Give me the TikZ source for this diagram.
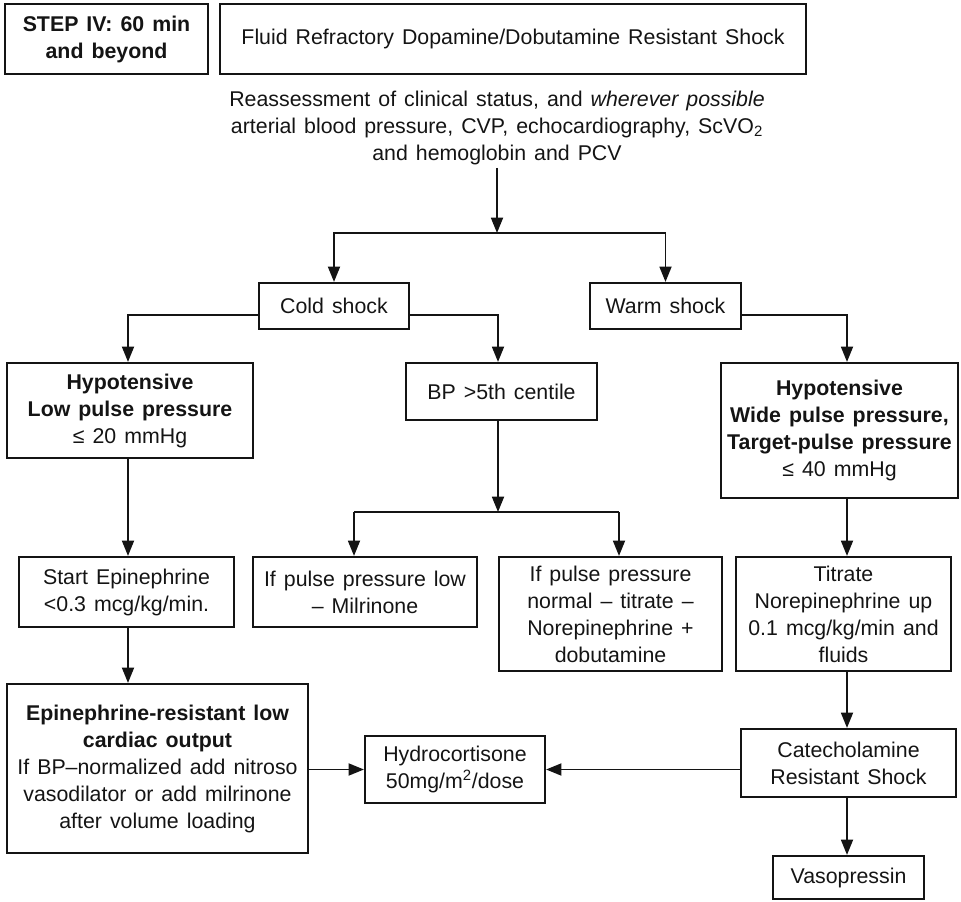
\documentclass[tikz,border=0pt]{standalone}
\usepackage{fontspec}
\setmainfont{Liberation Sans}[WordSpace=1.35]
\usetikzlibrary{arrows.meta}

\begin{document}
\begin{tikzpicture}[x=0.75pt,y=-0.75pt,
  every node/.style={font=\fontsize{16}{20.25}\selectfont, text=black!92},
  box/.style={draw=black!92, line width=1.6pt, align=center, inner sep=0pt},
  sz/.style 2 args={minimum width=#1*0.75pt, minimum height=#2*0.75pt},
  link/.style={draw=black!92, line width=1.35pt, -{Triangle[length=11.5pt,width=9pt]}},
  plain/.style={draw=black!92, line width=1.35pt}
]
\useasboundingbox (0,0) rectangle (961,902);

% column guides for the vertical connectors
\coordinate (colL) at (128,0);
\coordinate (colM) at (498,0);
\coordinate (colR) at (847,0);
\coordinate (top)  at (497,233);
\coordinate (bar)  at (498,512);
\coordinate (barL) at (354,512);
\coordinate (barR) at (619,512);

% header
\node[box, sz={203}{70}, font=\fontsize{16}{20.25}\selectfont\bfseries] (step) at (106.5,39) {STEP IV: 60 min\\and beyond};
\node[box, sz={586}{70}] (title) at (513,39) {Fluid Refractory Dopamine/Dobutamine Resistant Shock};

\node[align=center, inner sep=2pt] (reass) at (497,128)
  {Reassessment of clinical status, and \textit{wherever possible}\\
   arterial blood pressure, CVP, echocardiography, ScVO\textsubscript{2}\\
   and hemoglobin and PCV};

% shock types
\node[box, sz={150}{46}] (cold) at (334,306) {Cold shock};
\node[box, sz={151}{46}] (warm) at (665.5,306) {Warm shock};

% second level
\node[box, sz={246}{95}] (hypL) at (130,410.5)
  {\textbf{Hypotensive}\\\textbf{Low pulse pressure}\\≤ 20 mmHg};
\node[box, sz={191}{57}] (bp) at (501.5,391.5) {BP >5th centile};
\node[box, sz={237}{135}] (hypR) at (839.5,430.5)
  {\textbf{Hypotensive}\\\textbf{Wide pulse pressure,}\\\textbf{Target-pulse pressure}\\≤ 40 mmHg};

% third level
\node[box, sz={215}{70}] (epi) at (126.5,592) {Start Epinephrine\\<0.3 mcg/kg/min.};
\node[box, sz={224}{70}] (pplow) at (365,592) {If pulse pressure low\\– Milrinone};
\node[box, sz={223}{114}] (ppnorm) at (610.5,614)
  {If pulse pressure\\normal – titrate –\\Norepinephrine +\\dobutamine};
\node[box, sz={215}{114}] (titr) at (843.5,614)
  {Titrate\\Norepinephrine up\\0.1 mcg/kg/min and\\fluids};

% bottom level
\node[box, sz={301}{169}] (epires) at (157.5,768.5)
  {\textbf{Epinephrine-resistant low}\\\textbf{cardiac output}\\If BP–normalized add nitroso\\vasodilator or add milrinone\\after volume loading};
\node[box, sz={180}{67}] (hydro) at (455,769.5) {Hydrocortisone\\50mg/m\textsuperscript{2}/dose};
\node[box, sz={215}{68}] (cat) at (848.5,763) {Catecholamine\\Resistant Shock};
\node[box, sz={151}{43}] (vaso) at (848.5,877.5) {Vasopressin};

% connectors
\draw[link] (reass.south -| top) -- (top);
\draw[link] (top) -| (cold);
\draw[link] (top) -| (warm);

\draw[link] ([yshift=-6.75pt]cold.west) -| (hypL.north -| colL);
\draw[link] ([yshift=-6.75pt]cold.east) -| (bp.north -| colM);
\draw[link] ([yshift=-6.75pt]warm.east) -| (hypR.north -| colR);

\draw[link] (hypL.south -| colL) -- (epi.north -| colL);
\draw[link] (epi.south -| colL) -- (epires.north -| colL);

\draw[link] (bp.south -| colM) -- (bar);
\draw[plain] (barL) -- (barR);
\draw[link] (barL) -- (pplow.north -| barL);
\draw[link] (barR) -- (ppnorm.north -| barR);

\draw[link] (hypR.south -| colR) -- (titr.north -| colR);
\draw[link] (titr.south -| colR) -- (cat.north -| colR);
\draw[link] (cat.south -| colR) -- (vaso.north -| colR);

\draw[link] (epires.east |- hydro) -- (hydro.west);
\draw[link] (cat.west |- hydro) -- (hydro.east);
\end{tikzpicture}
\end{document}
